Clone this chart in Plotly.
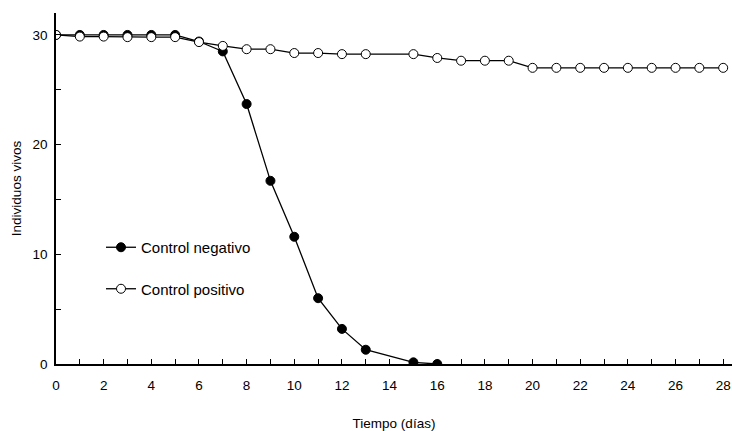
import plotly.graph_objects as go

dias = [0, 1, 2, 3, 4, 5, 6, 7, 8, 9, 10, 11, 12, 13, 15, 16, 17, 18, 19, 20, 21, 22, 23, 24, 25, 26, 27, 28]
dias_neg = [0, 1, 2, 3, 4, 5, 6, 7, 8, 9, 10, 11, 12, 13, 15, 16]
control_negativo = [30, 30, 30, 30, 30, 30, 29.4, 28.5, 23.7, 16.7, 11.6, 6.0, 3.2, 1.3, 0.15, 0]
control_positivo = [30, 29.85, 29.85, 29.8, 29.8, 29.8, 29.35, 29.0, 28.7, 28.7, 28.35, 28.35, 28.25, 28.25,
                    28.25, 27.9, 27.65, 27.65, 27.65, 27.0, 27.0, 27.0, 27.0, 27.0, 27.0, 27.0, 27.0, 27.0]
x_ticks = list(range(0, 29, 2))
y_ticks = [0, 10, 20, 30]

FONT = "Liberation Sans, Arial, sans-serif"

fig = go.Figure()
fig.add_trace(go.Scatter(
    x=dias_neg, y=control_negativo, mode="lines+markers", name="Control negativo",
    legendgroup="a",
    line=dict(color="black", width=1.3),
    marker=dict(symbol="circle", size=9, color="black", line=dict(color="black", width=1)),
))
fig.add_trace(go.Scatter(
    x=dias, y=control_positivo, mode="lines+markers", name="Control positivo",
    legendgroup="b",
    line=dict(color="black", width=1.3),
    marker=dict(symbol="circle", size=9, color="white", line=dict(color="black", width=1)),
))

fig.update_layout(
    width=732, height=431,
    margin=dict(l=56, r=0, t=13, b=67, autoexpand=False),
    paper_bgcolor="white", plot_bgcolor="white",
    font=dict(family=FONT, size=13.5, color="black"),
    showlegend=True,
    legend=dict(
        x=(101 - 56) / 676, y=133 / 351, xanchor="left", yanchor="top",
        traceorder="grouped", tracegroupgap=19,
        bgcolor="rgba(0,0,0,0)", font=dict(family=FONT, size=15),
    ),
    xaxis=dict(
        range=[0, 28.37], tickvals=x_ticks, ticks="inside", ticklen=5, tickwidth=1,
        tickcolor="black", showline=True, linecolor="black", linewidth=1.5,
        showgrid=False, zeroline=False, automargin=False, ticklabelstandoff=8,
        minor=dict(dtick=1, tick0=0, ticks="inside", ticklen=5, tickcolor="black", showgrid=False),
        title=dict(text="Tiempo (días)", font=dict(size=13.5), standoff=27),
        tickfont=dict(size=13.5),
    ),
    yaxis=dict(
        range=[0, 32], tickvals=y_ticks, ticks="inside", ticklen=5, tickwidth=1,
        tickcolor="black", showline=True, linecolor="black", linewidth=1.5,
        showgrid=False, zeroline=False, automargin=False, ticklabelstandoff=4,
        minor=dict(dtick=5, tick0=0, ticks="inside", ticklen=5, tickcolor="black", showgrid=False),
        title=dict(text="Individuos vivos", font=dict(size=13.5), standoff=8),
        tickfont=dict(size=13.5),
    ),
)

fig.write_html(
    "out.html",
    config={"displayModeBar": False},
    post_script="document.body.style.margin='0';document.body.style.overflow='hidden';",
)
